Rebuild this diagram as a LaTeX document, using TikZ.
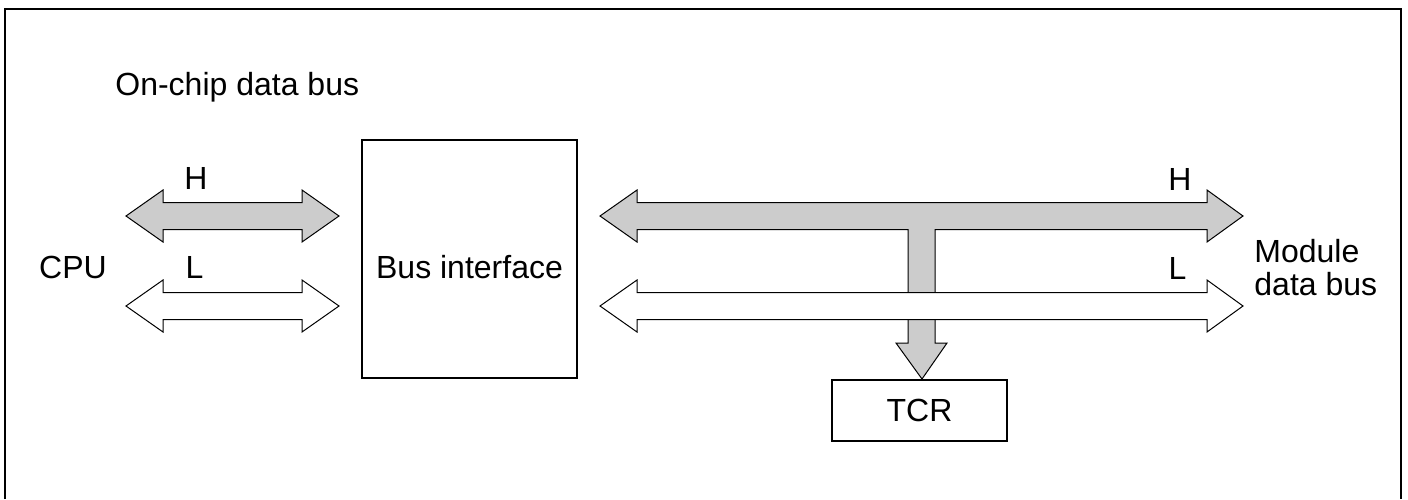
\documentclass[tikz,border=0pt]{standalone}
\usepackage{fontspec}
\setmainfont{Liberation Sans}
\usetikzlibrary{positioning}
\definecolor{busGray}{HTML}{CCCCCC}

\begin{document}
\begin{tikzpicture}[x=0.5pt,y=-0.5pt,every node/.style={font=\fontsize{16}{16.5}\selectfont,inner sep=0pt}]
      \tikzstyle{block}=[draw=black,line width=1pt,fill=white,align=center]
      \tikzstyle{busH}=[draw=black,line width=0.5pt,fill=busGray,line join=miter]
      \tikzstyle{busL}=[draw=black,line width=0.5pt,fill=white,line join=miter]
      \useasboundingbox (0,0) rectangle (1408,499);
      % frame, open at the bottom
      \draw[line width=1pt] (5,499) -- (5,8.5) -- (1401,8.5) -- (1401,499);
      % blocks
      \node[block,minimum width=107.5pt,minimum height=119pt] (bif) at (469.5,259) {};
      \node (biftext) at ([yshift=-4pt]bif.center) {Bus interface};
      \node[block,minimum width=87.5pt,minimum height=30.5pt] (tcr) at (919.5,410.5) {TCR};
      % labels
      \node[anchor=west] (title) at (115,87) {On-chip data bus};
      \node (cpu) at (73,267) {CPU};
      \node (hl) at (196,178) {H};
      \node (ll) at (194.5,267) {L};
      \node (hr) at (1180,179) {H};
      \node (lr) at (1177.5,268) {L};
      \node[anchor=base west,align=left] (mdb) at (1254,295) {Module\\data bus};
      % CPU side buses
      \draw[busH] (126,216) -- (163,190) -- (163,202.5) -- (302,202.5) -- (302,190) -- (339,216)
                  -- (302,242) -- (302,229.5) -- (163,229.5) -- (163,242) -- cycle;
      \draw[busL] (126,306) -- (163,280) -- (163,292.5) -- (302,292.5) -- (302,280) -- (339,306)
                  -- (302,332) -- (302,319.5) -- (163,319.5) -- (163,332) -- cycle;
      % module side H bus with branch to TCR
      \draw[busH] (600,216) -- (637,190) -- (637,202.5) -- (1207,202.5) -- (1207,190) -- (1243,216)
                  -- (1207,242) -- (1207,229.5) -- (935,229.5) -- (935,343) -- (947,343)
                  -- (tcr.north -| 922,0) -- (896,343) -- (908,343) -- (908,229.5)
                  -- (637,229.5) -- (637,242) -- cycle;
      \draw[busL] (600,306) -- (637,280) -- (637,292.5) -- (1207,292.5) -- (1207,280) -- (1243,306)
                  -- (1207,332) -- (1207,319.5) -- (637,319.5) -- (637,332) -- cycle;
    \end{tikzpicture}
\end{document}
